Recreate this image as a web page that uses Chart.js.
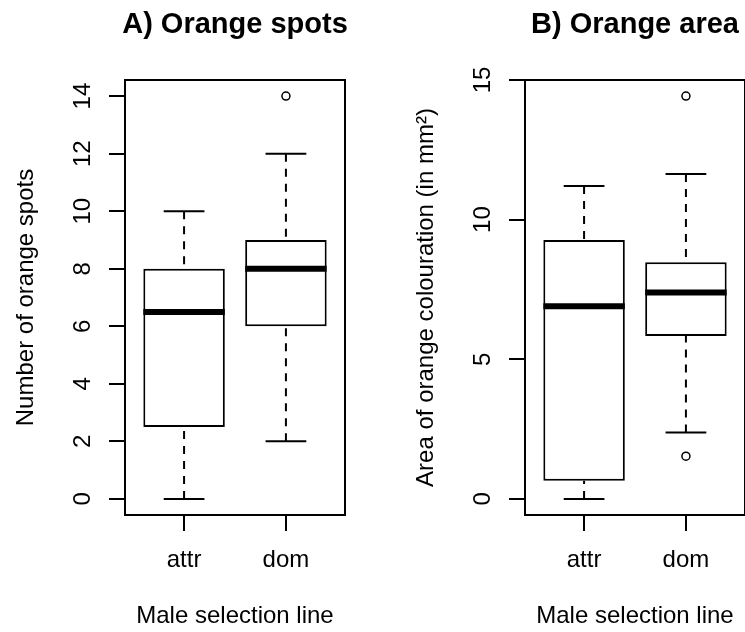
<!DOCTYPE html>
<html>
<head>
<meta charset="utf-8">
<script src="https://cdn.jsdelivr.net/npm/chart.js@4.4.1/dist/chart.umd.min.js"></script>
<style>
  html, body { margin: 0; padding: 0; background: #fff; }
  #stage { position: relative; width: 745px; height: 632px; overflow: hidden; background: #fff; }
  .panel { position: absolute; top: 0; width: 400px; height: 632px; }
  #wrapA { left: 0; }
  #wrapB { left: 400px; }
</style>
</head>
<body>
<div id="stage">
  <div class="panel" id="wrapA"><canvas id="chartA" width="400" height="632"></canvas></div>
  <div class="panel" id="wrapB"><canvas id="chartB" width="400" height="632"></canvas></div>
</div>
<script>
// Groups on the x axis and where they sit
const categories = ['attr', 'dom'];
const positions = [1, 2];

// Box summaries per group: [lower whisker, Q1, median, Q3, upper whisker]
const spotsAttr = [0, 2.5, 6.5, 8, 10];
const spotsDom = [2, 6, 8, 9, 12];
const spotsOutliers = [[], [14]];
const spotsTicks = [0, 2, 4, 6, 8, 10, 12, 14];

const areaAttr = [0, 0.65, 6.9, 9.27, 11.2];
const areaDom = [2.38, 5.83, 7.39, 8.47, 11.63];
const areaOutliers = [[], [1.53, 14.42]];
const areaTicks = [0, 5, 10, 15];

const FONT = '"Liberation Sans", Arial, sans-serif';
const INK = '#000';

// Whiskers, caps, medians, frame and all text, placed with the chart's scales
const boxplotDecor = {
  id: 'boxplotDecor',
  afterDatasetsDraw(chart, args, opts) {
    const { ctx, chartArea: a, scales: { x, y } } = chart;
    const bars = chart.getDatasetMeta(0).data;
    ctx.save();
    ctx.beginPath();
    ctx.rect(a.left, a.top, a.right - a.left, a.bottom - a.top);
    ctx.clip();
    ctx.strokeStyle = INK;
    ctx.lineCap = 'butt';
    opts.stats.forEach((s, i) => {
      const cx = x.getPixelForValue(positions[i]);
      const half = bars[i].width / 2;
      const capHalf = half / 2;
      // dashed whiskers, running from whisker end to box edge
      ctx.lineWidth = 2;
      ctx.setLineDash([8, 7]);
      [[0, 1], [4, 3]].forEach(([from, to]) => {
        ctx.beginPath();
        ctx.moveTo(cx, y.getPixelForValue(s[from]));
        ctx.lineTo(cx, y.getPixelForValue(s[to]));
        ctx.stroke();
      });
      ctx.setLineDash([]);
      // staples
      [0, 4].forEach(k => {
        const py = y.getPixelForValue(s[k]);
        ctx.beginPath();
        ctx.moveTo(cx - capHalf, py);
        ctx.lineTo(cx + capHalf, py);
        ctx.stroke();
      });
      // median
      const my = y.getPixelForValue(s[2]);
      ctx.lineWidth = 6;
      ctx.beginPath();
      ctx.moveTo(cx - half, my);
      ctx.lineTo(cx + half, my);
      ctx.stroke();
    });
    ctx.restore();
  },
  afterDraw(chart, args, opts) {
    const { ctx, chartArea: a, scales: { x, y } } = chart;
    ctx.save();
    // plot frame
    ctx.strokeStyle = INK;
    ctx.lineWidth = 2;
    ctx.strokeRect(a.left, a.top, a.right - a.left, a.bottom - a.top);

    ctx.fillStyle = INK;
    ctx.textAlign = 'center';
    ctx.textBaseline = 'alphabetic';

    // main title
    ctx.font = 'bold 29px ' + FONT;
    ctx.fillText(opts.title, (a.left + a.right) / 2, 33);

    // y tick labels, reading upward
    ctx.font = '24px ' + FONT;
    y.ticks.forEach(t => {
      const py = y.getPixelForValue(t.value);
      ctx.save();
      ctx.translate(a.left - 35, py);
      ctx.rotate(-Math.PI / 2);
      ctx.fillText(String(t.value), 0, 0);
      ctx.restore();
    });

    // y axis title
    ctx.save();
    ctx.translate(a.left - 92, (a.top + a.bottom) / 2);
    ctx.rotate(-Math.PI / 2);
    ctx.fillText(opts.yTitle, 0, 0);
    ctx.restore();

    // x tick labels
    x.ticks.forEach((t, i) => {
      ctx.fillText(categories[i], x.getPixelForValue(t.value), 567);
    });

    // x axis title
    ctx.fillText(opts.xTitle, (a.left + a.right) / 2, 623);
    ctx.restore();
  }
};

function makeBoxplot(canvasId, title, yTitle, stats, outliers, yTicks) {
  const values = stats.flat().concat(outliers.flat());
  const lo = Math.min(...values);
  const hi = Math.max(...values);
  const pad = (hi - lo) * 0.04;
  const xPad = (positions.length) * 0.04;

  const tickGrid = {
    display: true,
    drawOnChartArea: false,
    drawTicks: true,
    tickLength: 16,
    color: INK,
    lineWidth: 2,
    offset: false
  };

  return new Chart(document.getElementById(canvasId), {
    type: 'bar',
    data: {
      datasets: [
        {
          type: 'bar',
          data: stats.map((s, i) => ({ x: positions[i], y: [s[1], s[3]] })),
          backgroundColor: '#fff',
          borderColor: INK,
          borderWidth: 2,
          borderSkipped: false,
          barPercentage: 0.8,
          categoryPercentage: 1
        },
        {
          type: 'scatter',
          data: outliers.flatMap((o, i) => o.map(v => ({ x: positions[i], y: v }))),
          pointStyle: 'circle',
          pointRadius: 4,
          pointBorderWidth: 1.5,
          pointBorderColor: INK,
          pointBackgroundColor: 'rgba(0,0,0,0)'
        }
      ]
    },
    options: {
      responsive: false,
      animation: false,
      events: [],
      layout: { padding: { left: 0, top: 80, right: 55, bottom: 0 } },
      plugins: {
        legend: { display: false },
        tooltip: { enabled: false },
        title: { display: false },
        boxplotDecor: { stats, title, yTitle, xTitle: 'Male selection line' }
      },
      scales: {
        x: {
          type: 'linear',
          offset: false,
          min: 0.5 - xPad,
          max: positions.length + 0.5 + xPad,
          afterBuildTicks: s => { s.ticks = positions.map(v => ({ value: v })); },
          afterFit: s => { s.height = 117; },
          ticks: { display: false },
          grid: tickGrid,
          border: { display: false }
        },
        y: {
          type: 'linear',
          beginAtZero: false,
          min: lo - pad,
          max: hi + pad,
          afterBuildTicks: s => { s.ticks = yTicks.map(v => ({ value: v })); },
          afterFit: s => { s.width = 125; },
          ticks: { display: false },
          grid: tickGrid,
          border: { display: false }
        }
      }
    },
    plugins: [boxplotDecor]
  });
}

makeBoxplot('chartA', 'A) Orange spots', 'Number of orange spots',
  [spotsAttr, spotsDom], spotsOutliers, spotsTicks);
makeBoxplot('chartB', 'B) Orange area', 'Area of orange colouration (in mm²)',
  [areaAttr, areaDom], areaOutliers, areaTicks);
</script>
</body>
</html>
